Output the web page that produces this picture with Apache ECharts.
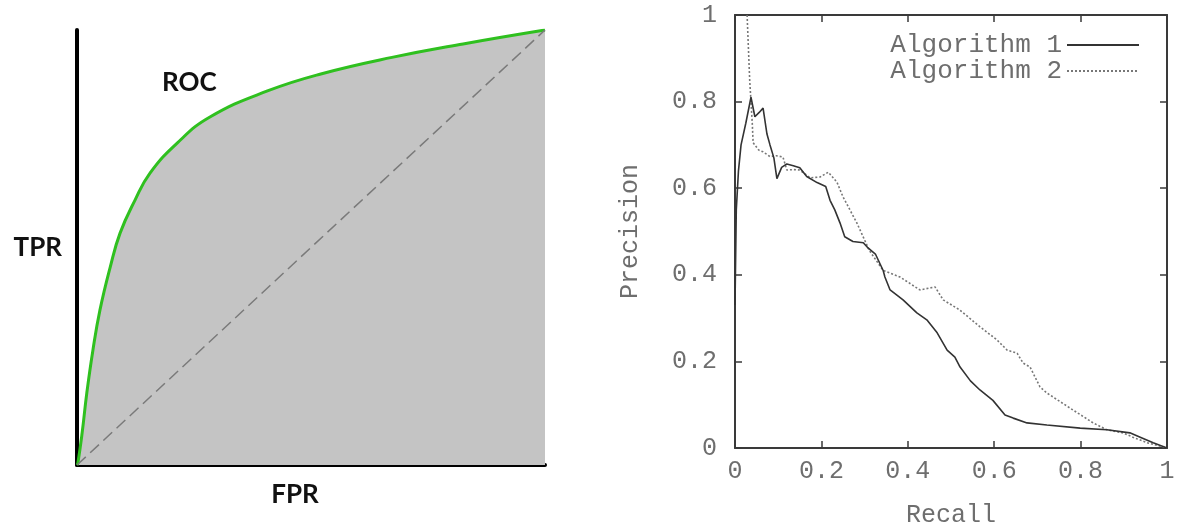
<!DOCTYPE html>
<html>
<head>
<meta charset="utf-8">
<script src="https://cdn.jsdelivr.net/npm/echarts@6/dist/echarts.min.js"></script>
<style>
html,body{margin:0;padding:0;background:#fff;}
#c{width:1179px;height:527px;}
</style>
</head>
<body>
<div id="c"></div>
<script>
// ---- Left panel: ROC illustration (FPR, TPR) ----
const rocCurve = [
  [0, 0], [0.002, 0.005], [0.011, 0.074], [0.021, 0.166], [0.034, 0.264],
  [0.049, 0.356], [0.071, 0.455], [0.092, 0.533], [0.124, 0.609],
  [0.156, 0.671], [0.214, 0.740], [0.284, 0.800], [0.407, 0.860],
  [0.521, 0.899], [0.673, 0.937], [0.825, 0.968], [1, 1]
];
const chanceLine = [[0, 0], [1, 1]];
const leftLabels = { x: 'FPR', y: 'TPR', curve: 'ROC', area: 'AOC' };

// ---- Right panel: precision-recall curves (Recall, Precision) ----
const algo1 = [
  [0, 0.33], [0.003, 0.55], [0.008, 0.64], [0.014, 0.70], [0.025, 0.75],
  [0.037, 0.81], [0.046, 0.765], [0.056, 0.775], [0.065, 0.785], [0.074, 0.725],
  [0.081, 0.70], [0.09, 0.67], [0.097, 0.622], [0.108, 0.648], [0.12, 0.656],
  [0.135, 0.652], [0.15, 0.647], [0.166, 0.627], [0.19, 0.613], [0.21, 0.604],
  [0.22, 0.572], [0.231, 0.55], [0.243, 0.52], [0.254, 0.488], [0.273, 0.477],
  [0.297, 0.474], [0.308, 0.462], [0.325, 0.448], [0.343, 0.41], [0.347, 0.395],
  [0.359, 0.365], [0.389, 0.342], [0.421, 0.312], [0.444, 0.296], [0.468, 0.266],
  [0.491, 0.226], [0.509, 0.21], [0.521, 0.187], [0.545, 0.155], [0.567, 0.134],
  [0.597, 0.11], [0.625, 0.076], [0.644, 0.069], [0.676, 0.058], [0.722, 0.053],
  [0.799, 0.046], [0.861, 0.042], [0.914, 0.035], [0.938, 0.025], [0.968, 0.012],
  [1, 0]
];
const algo2 = [
  [0.028, 1.0], [0.034, 0.85], [0.04, 0.75], [0.042, 0.705], [0.055, 0.688],
  [0.065, 0.684], [0.081, 0.673], [0.095, 0.675], [0.111, 0.672], [0.12, 0.642],
  [0.135, 0.643], [0.15, 0.642], [0.174, 0.624], [0.197, 0.626], [0.216, 0.637],
  [0.236, 0.614], [0.25, 0.58], [0.266, 0.55], [0.282, 0.52], [0.297, 0.487],
  [0.311, 0.456], [0.343, 0.41], [0.382, 0.395], [0.428, 0.365], [0.463, 0.372],
  [0.482, 0.342], [0.52, 0.319], [0.567, 0.28], [0.606, 0.25], [0.63, 0.226],
  [0.653, 0.219], [0.667, 0.196], [0.683, 0.187], [0.706, 0.141], [0.722, 0.127],
  [0.782, 0.088], [0.829, 0.058], [0.861, 0.042], [0.898, 0.035], [0.921, 0.025],
  [0.954, 0.012], [1, 0]
];
const seriesNames = ['Algorithm 1', 'Algorithm 2'];
const rightAxisNames = { x: 'Recall', y: 'Precision' };

const mono = 'Liberation Mono';
const grayText = '#6e6e6e';
const frame = '#3a3a3a';
const sans = 'Lato';

const chart = echarts.init(document.getElementById('c'), null, { renderer: 'canvas' });

const frameAxis = (extra) => Object.assign({
  type: 'value', min: 0, max: 1, interval: 0.2,
  axisLine: { show: true, onZero: false, lineStyle: { color: frame, width: 2 } },
  axisTick: { show: true, inside: true, length: 7, lineStyle: { color: frame, width: 1.5 } },
  axisLabel: { show: false },
  splitLine: { show: false }
}, extra);

const option = {
  animation: false,
  backgroundColor: '#ffffff',
  grid: [
    { left: 77, top: 30, width: 468, height: 435, outerBoundsMode: 'none', containLabel: false },
    { left: 735, top: 15, width: 432, height: 433, outerBoundsMode: 'none', containLabel: false }
  ],
  xAxis: [
    {
      gridIndex: 0, type: 'value', min: 0, max: 1,
      axisLine: { show: true, onZero: false, lineStyle: { color: '#000', width: 4 } },
      axisTick: { show: false }, axisLabel: { show: false }, splitLine: { show: false },
      name: leftLabels.x, nameLocation: 'middle', nameGap: 17,
      nameTextStyle: { fontFamily: sans, fontWeight: 'bold', fontSize: 26, color: '#111', padding: [0, 32, 0, 0] }
    },
    frameAxis({
      gridIndex: 1, position: 'bottom',
      axisLabel: { show: true, margin: 11, fontFamily: mono, fontSize: 25, color: grayText },
      name: rightAxisNames.x, nameLocation: 'middle', nameGap: 55,
      nameTextStyle: { fontFamily: mono, fontSize: 25, color: grayText }
    }),
    frameAxis({ gridIndex: 1, position: 'top' })
  ],
  yAxis: [
    {
      gridIndex: 0, type: 'value', min: 0, max: 1,
      axisLine: { show: true, onZero: false, lineStyle: { color: '#000', width: 4 } },
      axisTick: { show: false }, axisLabel: { show: false }, splitLine: { show: false },
      name: leftLabels.y, nameLocation: 'middle', nameGap: 15, nameRotate: 0,
      nameTextStyle: { fontFamily: sans, fontWeight: 'bold', fontSize: 26, color: '#111' }
    },
    frameAxis({
      gridIndex: 1, position: 'left',
      axisLabel: { show: true, margin: 18, fontFamily: mono, fontSize: 25, color: grayText },
      name: rightAxisNames.y, nameLocation: 'middle', nameGap: 92, nameRotate: 90,
      nameTextStyle: { fontFamily: mono, fontSize: 25, color: grayText }
    }),
    frameAxis({ gridIndex: 1, position: 'right' })
  ],
  legend: {
    data: seriesNames,
    orient: 'vertical',
    align: 'right',
    right: 34, top: 27,
    itemWidth: 72, itemHeight: 14, itemGap: 0,
    itemStyle: { opacity: 0 },
    textStyle: { fontFamily: mono, fontSize: 26, color: grayText, lineHeight: 24 }
  },
  graphic: [
    { type: 'text', left: 162, top: 70,
      style: { text: leftLabels.curve, fontFamily: sans, fontWeight: 'bold', fontSize: 26, fill: '#111' } },
    { type: 'text', left: 336, top: 340,
      style: { text: leftLabels.area, fontFamily: sans, fontWeight: 'bold', fontSize: 26, fill: '#111' } }
  ],
  series: [
    {
      type: 'line', xAxisIndex: 0, yAxisIndex: 0, data: rocCurve,
      smooth: 0.45, symbol: 'none', z: 3,
      lineStyle: { color: '#2fc01f', width: 3 },
      areaStyle: { color: '#c4c4c4', opacity: 1 }
    },
    {
      type: 'line', xAxisIndex: 0, yAxisIndex: 0, data: chanceLine,
      symbol: 'none', z: 4,
      lineStyle: { color: '#7a7a7a', width: 1.5, type: [12, 6] }
    },
    {
      name: seriesNames[0], type: 'line', xAxisIndex: 1, yAxisIndex: 1, data: algo1,
      symbol: 'none', z: 5, color: '#333',
      lineStyle: { color: '#333', width: 1.6 }
    },
    {
      name: seriesNames[1], type: 'line', xAxisIndex: 1, yAxisIndex: 1, data: algo2,
      symbol: 'none', z: 4, color: '#777',
      lineStyle: { color: '#777', width: 1.6, type: [2, 2] }
    }
  ]
};
chart.setOption(option);
</script>
</body>
</html>
